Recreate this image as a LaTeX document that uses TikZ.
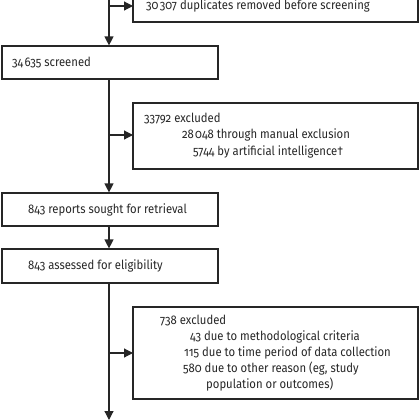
\documentclass[tikz,border=0pt]{standalone}
\usepackage{fontspec}
\setmainfont{Fira Sans}[Numbers=OldStyle, FakeStretch=0.9]
\usetikzlibrary{arrows.meta}
\newcommand{\hs}{\hspace{0.1em}}
\definecolor{ink}{HTML}{262626}
\tikzset{
  box/.style={draw=ink, line width=1.2bp, inner sep=0pt},
  txt/.style={anchor=west, inner sep=0pt, text=ink, font=\fontsize{12.6}{14}\selectfont},
  flow/.style={draw=ink, line width=1.2bp},
  arr/.style={flow, -{Triangle[length=9bp,width=9bp]}}
}
\begin{document}
\begin{tikzpicture}[x=1bp,y=-1bp]
\useasboundingbox (0,0) rectangle (420,420);
% boxes
\draw[box] (133,-20) rectangle (418,22);
\node[box, minimum width=216bp, minimum height=33bp] (scr) at (110,62.5) {};
\draw[box] (133,103) rectangle (418,169);
\node[box, minimum width=216bp, minimum height=33bp] (sought) at (110,209.5) {};
\node[box, minimum width=216bp, minimum height=34bp] (assess) at (110,266) {};
\draw[box] (133,307) rectangle (418,399);
% named anchors for side boxes
\coordinate (dupw) at (133,6);
\coordinate (ex1w) at (133,135);
\coordinate (ex2w) at (133,353);
\coordinate (top) at (109,-5);
\coordinate (bot) at (109,420);
% texts
\node[txt] (t1) at (146,6) {30\hs307 duplicates removed before screening};
\node[txt] (t2) at (12,62.5) {34\hs635 screened};
\node[txt] (t3) at (144,119) {33792 excluded};
\node[txt] (t4) at (182,135) {28\hs048 through manual exclusion};
\node[txt] (t5) at (193,152) {5744 by artificial intelligence†};
\node[txt] (t6) at (28,209.5) {843 reports sought for retrieval};
\node[txt] (t7) at (28,266) {843 assessed for eligibility};
\node[txt] (t8) at (160,321) {738 excluded};
\node[txt] (t9) at (190,337) {43 due to methodological criteria};
\node[txt] (t10) at (184,352.5) {115 due to time period of data collection};
\node[txt] (t11) at (183,368.5) {580 due to other reason (eg, study};
\node[txt] (t12) at (206,385) {population or outcomes)};
% connectors
\draw[arr] (top) -- (scr.north -| top);
\draw[arr] (top |- dupw) -- (dupw);
\draw[arr] (scr.south -| top) -- (sought.north -| top);
\draw[arr] (top |- ex1w) -- (ex1w);
\draw[arr] (sought.south -| top) -- (assess.north -| top);
\draw[arr] (assess.south -| top) -- (bot);
\draw[arr] (top |- ex2w) -- (ex2w);
\end{tikzpicture}
\end{document}
